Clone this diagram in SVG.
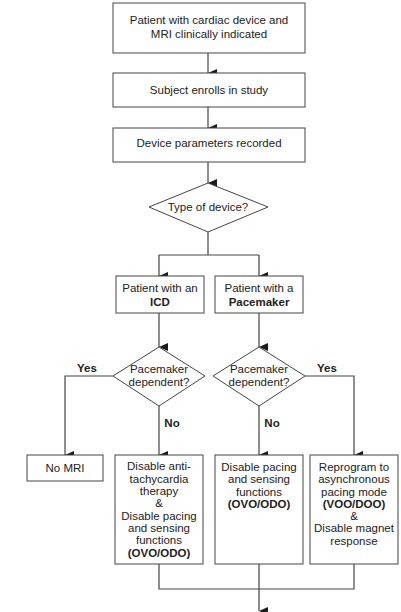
<svg xmlns="http://www.w3.org/2000/svg" width="401" height="612" viewBox="0 0 401 612">
<defs>
<marker id="arr" markerWidth="8" markerHeight="9" refX="4" refY="9" orient="auto" markerUnits="userSpaceOnUse" viewBox="0 0 8 9">
<path d="M0,0 L8,0 L4,9 Z" fill="#1a1a1a"/>
</marker>
</defs>
<style>
.box{fill:#fff;stroke:#444;stroke-width:1}
.t{font-family:"Liberation Sans",Arial,sans-serif;font-size:11.5px;fill:#222;text-anchor:middle}
.b{font-weight:bold}
.c{fill:none;stroke:#444;stroke-width:1.2}
.ca{fill:none;stroke:#444;stroke-width:1.2;marker-end:url(#arr)}
</style>
<rect width="401" height="612" fill="#fff"/>
<g id="connectors">
<path class="ca" d="M208,53 V73"/>
<path class="ca" d="M208,107 V128"/>
<path class="ca" d="M208,162 V183"/>
<path class="c" d="M208,232 V255 M159,255 H259"/>
<path class="ca" d="M159,255 V276"/>
<path class="ca" d="M259,255 V276"/>
<path class="ca" d="M159,313 V347"/>
<path class="ca" d="M259,313 V347"/>
<path class="ca" d="M113,376 H65 V455"/>
<path class="ca" d="M159,406 V455"/>
<path class="ca" d="M259,406 V455"/>
<path class="ca" d="M305,376 H354 V455"/>
<path class="c" d="M159,564 V589 H354 V564"/>
<path class="ca" d="M259,564 V611"/>
</g>
<g id="n1"><rect class="box" x="113" y="3" width="192" height="50"/>
<text class="t" x="209" y="24">Patient with cardiac device and</text>
<text class="t" x="209" y="38">MRI clinically indicated</text></g>
<g id="n2"><rect class="box" x="113" y="73" width="192" height="34"/>
<text class="t" x="209" y="94">Subject enrolls in study</text></g>
<g id="n3"><rect class="box" x="113" y="128" width="192" height="34"/>
<text class="t" x="209" y="147">Device parameters recorded</text></g>
<g id="d1"><polygon class="box" points="208,183 268,207 208,232 149,207"/>
<text class="t" x="208" y="211">Type of device?</text></g>
<g id="n4"><rect class="box" x="116" y="276" width="88" height="37"/>
<text class="t" x="160" y="292">Patient with an</text>
<text class="t b" x="160" y="306">ICD</text></g>
<g id="n5"><rect class="box" x="215" y="276" width="88" height="37"/>
<text class="t" x="259" y="292">Patient with a</text>
<text class="t b" x="259" y="306">Pacemaker</text></g>
<g id="d2"><polygon class="box" points="159,347 205,376 159,406 113,376"/>
<text class="t" x="159" y="373">Pacemaker</text>
<text class="t" x="159" y="386">dependent?</text></g>
<g id="d3"><polygon class="box" points="259,347 305,376 259,406 213,376"/>
<text class="t" x="259" y="373">Pacemaker</text>
<text class="t" x="259" y="386">dependent?</text></g>
<g id="labels">
<text class="t b" x="87" y="372">Yes</text>
<text class="t b" x="172" y="427">No</text>
<text class="t b" x="272" y="427">No</text>
<text class="t b" x="327" y="372">Yes</text>
</g>
<g id="n6"><rect class="box" x="27" y="455" width="76" height="26"/>
<text class="t" x="65" y="472">No MRI</text></g>
<g id="n7"><rect class="box" x="115" y="455" width="88" height="109"/>
<text class="t" x="159" y="470">Disable anti-</text>
<text class="t" x="159" y="483">tachycardia</text>
<text class="t" x="159" y="495">therapy</text>
<text class="t" x="159" y="507">&amp;</text>
<text class="t" x="159" y="520">Disable pacing</text>
<text class="t" x="159" y="532">and sensing</text>
<text class="t" x="159" y="544">functions</text>
<text class="t b" x="159" y="557">(OVO/ODO)</text></g>
<g id="n8"><rect class="box" x="215" y="455" width="88" height="109"/>
<text class="t" x="259" y="471">Disable pacing</text>
<text class="t" x="259" y="483">and sensing</text>
<text class="t" x="259" y="496">functions</text>
<text class="t b" x="259" y="508">(OVO/ODO)</text></g>
<g id="n9"><rect class="box" x="310" y="455" width="88" height="109"/>
<text class="t" x="354" y="471">Reprogram to</text>
<text class="t" x="354" y="483">asynchronous</text>
<text class="t" x="354" y="496">pacing mode</text>
<text class="t b" x="354" y="508">(VOO/DOO)</text>
<text class="t" x="354" y="520">&amp;</text>
<text class="t" x="354" y="532">Disable magnet</text>
<text class="t" x="354" y="545">response</text></g>
</svg>
